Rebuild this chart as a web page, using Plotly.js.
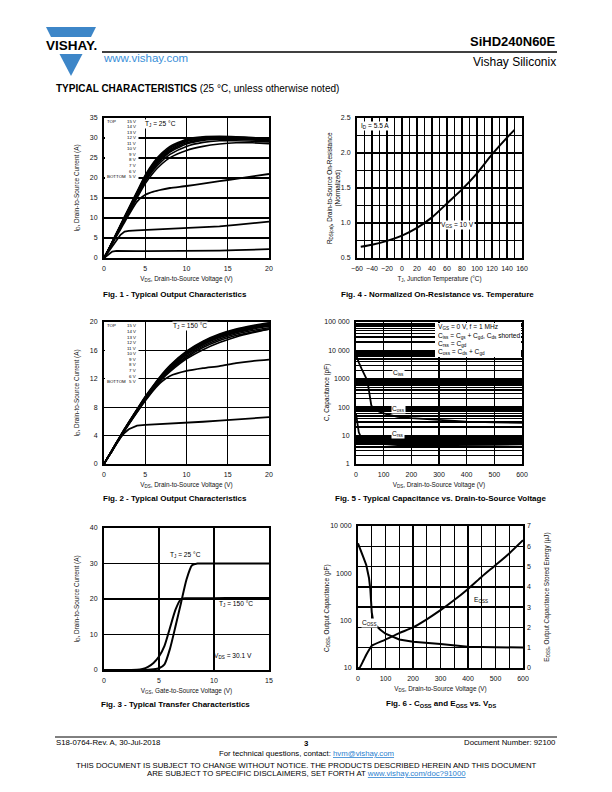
<!DOCTYPE html>
<html><head><meta charset="utf-8">
<script src="https://cdn.plot.ly/plotly-3.0.1.min.js"></script>
<style>html,body{margin:0;padding:0;background:#fff}#chart{width:612px;height:792px}</style>
</head><body><div id="chart"></div>
<script>
// ---------------- DATA ----------------
// Fig. 1 / Fig. 2 : output characteristics, VDS (V)
const vdsOut = [0, 0.5, 1, 1.5, 2, 2.5, 3, 4, 5, 6, 7, 8, 10, 12, 14, 16, 18, 20];
// Fig. 1, TJ = 25 °C, ID (A) per VGS
const f1_15V = [0, 2.0, 4.1, 6.2, 8.3, 10.4, 12.5, 16.6, 20.7, 23.9, 26.2, 27.9, 29.7, 30.3, 30.4, 30.3, 30.1, 29.8];
const f1_14V = [0, 2.0, 4.0, 6.1, 8.2, 10.3, 12.3, 16.4, 20.4, 23.6, 25.9, 27.6, 29.5, 30.1, 30.3, 30.2, 30.0, 29.7];
const f1_13V = [0, 2.0, 4.0, 6.0, 8.1, 10.1, 12.2, 16.2, 20.2, 23.3, 25.6, 27.4, 29.3, 30.0, 30.2, 30.1, 29.9, 29.6];
const f1_12V = [0, 1.9, 3.9, 5.9, 8.0, 10.0, 12.0, 16.0, 19.9, 23.0, 25.3, 27.1, 29.1, 29.8, 30.0, 30.0, 29.8, 29.5];
const f1_11V = [0, 1.9, 3.9, 5.9, 7.9, 9.9, 11.8, 15.8, 19.7, 22.7, 25.0, 26.8, 28.8, 29.6, 29.9, 29.9, 29.7, 29.4];
const f1_10V = [0, 1.9, 3.8, 5.8, 7.8, 9.7, 11.7, 15.6, 19.4, 22.4, 24.7, 26.5, 28.5, 29.4, 29.7, 29.7, 29.5, 29.2];
const f1_9V  = [0, 1.9, 3.8, 5.7, 7.7, 9.6, 11.5, 15.3, 19.1, 22.0, 24.2, 25.9, 27.9, 28.9, 29.3, 29.3, 29.2, 29.0];
const f1_8V  = [0, 1.8, 3.7, 5.6, 7.5, 9.4, 11.3, 15.0, 18.6, 21.4, 23.5, 25.1, 26.9, 27.9, 28.5, 28.8, 28.8, 28.6];
const f1_7V  = [0, 1.8, 3.6, 5.4, 7.2, 9.0, 10.8, 14.1, 15.8, 16.6, 17.1, 17.5, 18.0, 18.6, 19.2, 19.8, 20.4, 21.0];
const f1_6V  = [0, 1.5, 3.0, 4.5, 5.8, 6.6, 6.8, 6.9, 7.0, 7.1, 7.2, 7.25, 7.4, 7.6, 7.9, 8.3, 8.7, 9.1];
const f1_5V  = [0, 0.9, 1.6, 1.8, 1.75, 1.7, 1.7, 1.7, 1.7, 1.7, 1.7, 1.7, 1.7, 1.75, 1.85, 1.95, 2.1, 2.2];
// Fig. 2, TJ = 150 °C
const f2_15V = [0, 1.0, 2.0, 3.0, 4.0, 5.0, 5.9, 7.7, 9.5, 11.1, 12.6, 13.9, 15.9, 17.3, 18.3, 19.0, 19.5, 19.9];
const f2_14V = [0, 1.0, 2.0, 3.0, 4.0, 4.9, 5.9, 7.7, 9.4, 11.0, 12.5, 13.8, 15.8, 17.2, 18.2, 18.9, 19.4, 19.8];
const f2_13V = [0, 1.0, 2.0, 3.0, 3.9, 4.9, 5.8, 7.6, 9.4, 11.0, 12.4, 13.7, 15.7, 17.1, 18.1, 18.8, 19.3, 19.7];
const f2_12V = [0, 1.0, 2.0, 3.0, 3.9, 4.9, 5.8, 7.6, 9.3, 10.9, 12.4, 13.6, 15.6, 17.0, 18.0, 18.7, 19.2, 19.6];
const f2_11V = [0, 1.0, 2.0, 2.9, 3.9, 4.8, 5.8, 7.5, 9.3, 10.8, 12.3, 13.5, 15.5, 16.9, 17.9, 18.6, 19.1, 19.5];
const f2_10V = [0, 1.0, 1.9, 2.9, 3.9, 4.8, 5.7, 7.5, 9.2, 10.8, 12.2, 13.4, 15.4, 16.8, 17.8, 18.5, 19.0, 19.4];
const f2_9V  = [0, 1.0, 1.9, 2.9, 3.9, 4.8, 5.7, 7.5, 9.2, 10.7, 12.1, 13.3, 15.2, 16.6, 17.6, 18.3, 18.8, 19.2];
const f2_8V  = [0, 1.0, 1.9, 2.9, 3.8, 4.8, 5.7, 7.4, 9.1, 10.6, 12.0, 13.2, 15.0, 16.4, 17.4, 18.1, 18.6, 19.0];
const f2_7V  = [0, 1.0, 1.9, 2.9, 3.8, 4.7, 5.6, 7.3, 9.0, 10.5, 11.9, 13.0, 14.8, 16.1, 17.1, 17.9, 18.5, 19.0];
const f2_6V  = [0, 1.0, 1.9, 2.9, 3.8, 4.7, 5.6, 7.3, 8.9, 10.4, 11.6, 12.4, 13.1, 13.5, 13.8, 14.2, 14.5, 14.7];
const f2_5V  = [0, 1.0, 1.9, 2.8, 3.7, 4.4, 4.9, 5.4, 5.5, 5.55, 5.6, 5.65, 5.8, 5.95, 6.1, 6.3, 6.45, 6.6];
const vgsLegend = ['15 V','14 V','13 V','12 V','11 V','10 V','9 V','8 V','7 V','6 V','5 V'];

// Fig. 3 : transfer characteristics
const vgsTr  = [0, 1, 2, 3, 3.5, 4, 4.5, 5, 5.5, 6, 6.5, 7, 7.5, 8, 8.5, 9, 10, 12, 15];
const idTr25  = [0, 0, 0, 0, 0, 0.05, 0.2, 0.5, 1.6, 6.0, 12.3, 18.9, 25.5, 29.5, 30.0, 30.0, 30.0, 30.0, 30.0];
const idTr150 = [0, 0, 0, 0.05, 0.3, 0.9, 2.0, 3.8, 6.8, 11.9, 17.0, 20.0, 20.2, 20.2, 20.2, 20.2, 20.2, 20.3, 20.3];

// Fig. 4 : normalized on-resistance
const tjC  = [-55, -40, -20, 0, 20, 40, 60, 80, 100, 120, 140, 150];
const rNorm = [0.66, 0.69, 0.745, 0.82, 0.93, 1.08, 1.28, 1.48, 1.71, 1.98, 2.22, 2.33];

// Fig. 5 : capacitance vs VDS (pF)
const vdsCap = [0, 5, 10, 20, 30, 40, 45, 50, 55, 60, 75, 100, 150, 200, 300, 400, 500, 600];
const cissPF = [1000, 920, 880, 860, 845, 835, 830, 830, 830, 830, 825, 820, 815, 810, 805, 800, 800, 800];
const cossPF = [7000, 5000, 3800, 2300, 1400, 900, 500, 200, 120, 95, 75, 60, 46, 41, 35, 31, 29, 28];
const crssPF = [60, 27, 13, 8, 7, 6.5, 6.2, 6.0, 5.8, 5.6, 5.3, 5.0, 4.6, 4.5, 4.5, 4.6, 4.7, 4.9];

// Fig. 6 : Coss and Eoss vs VDS
const vdsCoss = [0, 10, 20, 30, 40, 45, 50, 55, 60, 80, 100, 150, 200, 300, 400, 500, 600];
const coss6PF = [4300, 2900, 2150, 1500, 800, 450, 150, 100, 85, 65, 53, 40, 36, 32, 28, 27.5, 27];
const vdsEoss = [0, 5, 20, 30, 45, 50, 100, 150, 200, 250, 300, 350, 400, 450, 500, 550, 600];
const eossUJ  = [0, 0, 0.38, 0.65, 1.0, 1.1, 1.4, 1.72, 2.0, 2.4, 2.85, 3.35, 3.9, 4.5, 5.07, 5.65, 6.3];

// tick labels
const capTickVals = [1, 10, 100, 1000, 10000, 100000];
const capTickText = ['1', '10', '100', '1000', '10 000', '100 000'];
const cossTickVals = [10, 100, 1000, 10000];
const cossTickText = ['10', '100', '1000', '10 000'];

// ---------------- HELPERS ----------------
const FONT = 'Liberation Sans, Arial, Helvetica, sans-serif';
const W = 612, H = 792;
const PX = x => x / W, PY = y => 1 - y / H;
function txt(text, x, y, size, opts) {
  return Object.assign({xref:'paper', yref:'paper', x:PX(x), y:PY(y), text:text, showarrow:false,
    font:{family:FONT, size:size, color:'black'}, xanchor:'center', yanchor:'middle', borderpad:0}, opts || {});
}
function ln(x, y, xa, ya, w, shape) {
  return {type:'scatter', mode:'lines', x:x, y:y, xaxis:xa, yaxis:ya, hoverinfo:'skip', showlegend:false,
    line:{color:'black', width:w, shape:shape || 'spline', smoothing:0.6}};
}
const tickFont = {family:FONT, size:7, color:'#111'};
const titleFont = {family:FONT, size:6.4, color:'#111'};
function ax(dom, extra) {
  return Object.assign({domain:dom, showline:true, linecolor:'black', linewidth:2, mirror:true, ticks:'',
    showgrid:true, gridcolor:'black', gridwidth:1.3, zeroline:false, tickfont:tickFont,
    ticklabelstandoff:3, fixedrange:true, automargin:false}, extra);
}
function minorGrid(vals, w) {
  return {tickmode:'array', tickvals:vals, showgrid:true, gridcolor:'black', gridwidth:w, ticks:''};
}

// ---------------- TRACES ----------------
const traces = [];
[f1_15V, f1_14V, f1_13V, f1_12V, f1_11V, f1_10V, f1_9V, f1_8V].forEach(a => traces.push(ln(vdsOut, a, 'x', 'y', 1.6)));
traces.push(ln(vdsOut, f1_7V, 'x', 'y', 1.8));
traces.push(ln(vdsOut, f1_6V, 'x', 'y', 1.8, 'linear'));
traces.push(ln(vdsOut, f1_5V, 'x', 'y', 1.8, 'linear'));

traces.push(ln(tjC, rNorm, 'x2', 'y2', 2));

[f2_15V, f2_14V, f2_13V, f2_12V, f2_11V, f2_10V, f2_9V, f2_8V, f2_7V].forEach(a => traces.push(ln(vdsOut, a, 'x3', 'y3', 1.6)));
traces.push(ln(vdsOut, f2_6V, 'x3', 'y3', 1.8));
traces.push(ln(vdsOut, f2_5V, 'x3', 'y3', 1.8, 'linear'));

traces.push(ln(vdsCap, cissPF, 'x4', 'y4', 1.8, 'linear'));
traces.push(ln(vdsCap, cossPF, 'x4', 'y4', 1.8, 'linear'));
traces.push(ln(vdsCap, crssPF, 'x4', 'y4', 1.8, 'linear'));

traces.push(ln(vgsTr, idTr25, 'x5', 'y5', 2));
traces.push(ln(vgsTr, idTr150, 'x5', 'y5', 2));

traces.push(ln(vdsCoss, coss6PF, 'x6', 'y6', 2, 'linear'));
traces.push(ln(vdsEoss, eossUJ, 'x6', 'y7', 2));

// ---------------- AXES ----------------
const t4xMinor = []; for (let v = -50; v <= 150; v += 20) t4xMinor.push(v);
const t4yMinor = []; for (let v = 0.75; v <= 2.3; v += 0.5) t4yMinor.push(v);
const t5yMinor = []; for (let d = 0; d < 5; d++) for (let m = 2; m <= 9; m++) t5yMinor.push(m * Math.pow(10, d));
const t6xMinor = []; for (let v = 50; v <= 550; v += 100) t6xMinor.push(v);

const vdsTitle = 'V<sub>DS</sub>, Drain-to-Source Voltage (V)';
const layout = {
  width:W, height:H, margin:{l:0, r:0, t:0, b:0}, paper_bgcolor:'white', plot_bgcolor:'white',
  showlegend:false, font:{family:FONT, color:'black'},
  xaxis: ax([PX(104), PX(269)], {anchor:'y', range:[0,20], dtick:5, tick0:0,
    title:{text:vdsTitle, font:titleFont, standoff:5}}),
  yaxis: ax([PY(258), PY(118)], {anchor:'x', range:[0,35], dtick:5, tick0:0,
    title:{text:'I<sub>D</sub>, Drain-to-Source Current (A)', font:titleFont, standoff:10}}),
  xaxis2: ax([PX(357), PX(522)], {anchor:'y2', range:[-60,160], dtick:20, tick0:-60,
    minor:minorGrid(t4xMinor, 1.3),
    title:{text:'T<sub>J</sub>, Junction Temperature (°C)', font:titleFont, standoff:5}}),
  yaxis2: ax([PY(258), PY(118)], {anchor:'x2', range:[0.5,2.5], dtick:0.5, tick0:0.5, tickformat:'.1f',
    minor:minorGrid(t4yMinor, 1.3)}),
  xaxis3: ax([PX(104), PX(269)], {anchor:'y3', range:[0,20], dtick:5, tick0:0,
    title:{text:vdsTitle, font:titleFont, standoff:5}}),
  yaxis3: ax([PY(464), PY(322)], {anchor:'x3', range:[0,20], dtick:4, tick0:0,
    title:{text:'I<sub>D</sub>, Drain-to-Source Current (A)', font:titleFont, standoff:10}}),
  xaxis4: ax([PX(356), PX(522)], {anchor:'y4', range:[0,600], dtick:100, tick0:0,
    title:{text:vdsTitle, font:titleFont, standoff:5}}),
  yaxis4: ax([PY(464), PY(322)], {anchor:'x4', type:'log', range:[0,5], tickmode:'array',
    tickvals:capTickVals, ticktext:capTickText, gridwidth:1.6, minor:minorGrid(t5yMinor, 1.5)}),
  xaxis5: ax([PX(104), PX(269)], {anchor:'y5', range:[0,15], dtick:5, tick0:0,
    title:{text:'V<sub>GS</sub>, Gate-to-Source Voltage (V)', font:titleFont, standoff:5}}),
  yaxis5: ax([PY(670), PY(528)], {anchor:'x5', range:[0,40], dtick:10, tick0:0,
    title:{text:'I<sub>D</sub>, Drain-to-Source Current (A)', font:titleFont, standoff:10}}),
  xaxis6: ax([PX(358), PX(523)], {anchor:'y6', range:[0,600], dtick:100, tick0:0,
    minor:minorGrid(t6xMinor, 1.3),
    title:{text:vdsTitle, font:titleFont, standoff:5}}),
  yaxis6: ax([PY(668), PY(526)], {anchor:'x6', type:'log', range:[1,4], tickmode:'array',
    tickvals:cossTickVals, ticktext:cossTickText, showgrid:false}),
  yaxis7: ax([PY(668), PY(526)], {anchor:'x6', overlaying:'y6', side:'right', range:[0,7], dtick:1, tick0:0, showline:false,
    title:{text:'E<sub>OSS</sub>, Output Capacitance Stored Energy (µJ)', font:titleFont, standoff:14}})
};

// ---------------- SHAPES ----------------
function poly(pts, color) {
  let d = pts.map((p, i) => (i ? 'L' : 'M') + PX(p[0]).toFixed(5) + ',' + PY(p[1]).toFixed(5)).join(' ') + ' Z';
  return {type:'path', xref:'paper', yref:'paper', path:d, fillcolor:color, line:{width:0}, layer:'above'};
}
function rect(x0, y0, x1, y1) {
  return {type:'rect', xref:'paper', yref:'paper', x0:PX(x0), x1:PX(x1), y0:PY(y1), y1:PY(y0), fillcolor:'white', line:{width:0}, layer:'above'};
}
function hline(x0, x1, y, w) {
  return {type:'line', xref:'paper', yref:'paper', x0:PX(x0), x1:PX(x1), y0:PY(y), y1:PY(y), line:{color:'black', width:w}};
}
const LOGO = '#3d86c8';
layout.shapes = [
  poly([[46,27],[96,27],[91,37],[51,37]], LOGO),
  poly([[59.5,54],[82.5,54],[71,76]], LOGO),
  hline(102, 557, 52, 1.3),
  hline(55, 557, 737, 1),
  rect(105, 119, 138.5, 181),   // Fig.1 legend box
  rect(105, 323, 138.5, 385),   // Fig.2 legend box
  rect(435, 323, 521, 357)      // Fig.5 legend box
];

// ---------------- TEXT ----------------
const A = [];
A.push(txt('<b>VISHAY.</b>', 71, 45.5, 13.5));
A.push(txt('www.vishay.com', 102, 58.5, 11.5, {xanchor:'left', font:{family:FONT, size:11.5, color:'#3a8fd8'}}));
A.push(txt('<b>SiHD240N60E</b>', 557, 42, 13, {xanchor:'right'}));
A.push(txt('Vishay Siliconix', 557, 62, 12, {xanchor:'right'}));
A.push(txt('<b>TYPICAL CHARACTERISTICS</b> (25 °C, unless otherwise noted)', 55, 88, 10, {xanchor:'left'}));

// Fig 1 annotations
A.push(txt('T<sub>J</sub> = 25 °C', 160, 123.5, 6.6, {bgcolor:'white'}));
A.push(txt('TOP', 106, 121, 4.4, {xanchor:'left'}));
A.push(txt('BOTTOM', 106, 176.7, 4.4, {xanchor:'left'}));
vgsLegend.forEach((s, i) => A.push(txt(s, 137, 121 + i * 5.57, 4.4, {xanchor:'right'})));
A.push(txt('<b>Fig. 1 - Typical Output Characteristics</b>', 175, 294, 8));

// Fig 4
A.push(txt('I<sub>D</sub> = 5.5 A', 360, 125.5, 6.6, {xanchor:'left', bgcolor:'white'}));
A.push(txt('V<sub>GS</sub> = 10 V', 457, 225, 6.6, {bgcolor:'white'}));
A.push(txt('R<sub>DS(on)</sub>, Drain-to-Source On-Resistance<br>(Normalized)', 334, 188, 6.4, {textangle:-90}));
A.push(txt('<b>Fig. 4 - Normalized On-Resistance vs. Temperature</b>', 437.5, 294, 8));

// Fig 2
A.push(txt('T<sub>J</sub> = 150 °C', 190, 326.5, 6.6, {bgcolor:'white'}));
A.push(txt('TOP', 106, 326, 4.4, {xanchor:'left'}));
A.push(txt('BOTTOM', 106, 381.7, 4.4, {xanchor:'left'}));
vgsLegend.forEach((s, i) => A.push(txt(s, 137, 326 + i * 5.57, 4.4, {xanchor:'right'})));
A.push(txt('<b>Fig. 2 - Typical Output Characteristics</b>', 175, 498, 8));

// Fig 5
A.push(txt('V<sub>GS</sub> = 0 V, f = 1 MHz', 437, 326.7, 6.6, {xanchor:'left'}));
A.push(txt('C<sub>iss</sub> = C<sub>gs</sub> + C<sub>gd</sub>, C<sub>ds</sub> shorted', 437, 336, 6.6, {xanchor:'left'}));
A.push(txt('C<sub>rss</sub> = C<sub>gd</sub>', 437, 343.5, 6.6, {xanchor:'left'}));
A.push(txt('C<sub>oss</sub> = C<sub>ds</sub> + C<sub>gd</sub>', 437, 352, 6.6, {xanchor:'left'}));
A.push(txt('C<sub>iss</sub>', 398, 373, 6.6, {bgcolor:'white'}));
A.push(txt('C<sub>oss</sub>', 398, 409, 6.6, {bgcolor:'white'}));
A.push(txt('C<sub>rss</sub>', 398, 434, 6.6, {bgcolor:'white'}));
A.push(txt('C, Capacitance (pF)', 327, 393, 6.4, {textangle:-90}));
A.push(txt('<b>Fig. 5 - Typical Capacitance vs. Drain-to-Source Voltage</b>', 440, 498, 8));

// Fig 3
A.push(txt('T<sub>J</sub> = 25 °C', 186, 555, 6.6));
A.push(txt('T<sub>J</sub> = 150 °C', 236, 604, 6.6));
A.push(txt('V<sub>DS</sub> = 30.1 V', 233, 656, 6.6));
A.push(txt('<b>Fig. 3 - Typical Transfer Characteristics</b>', 175, 704, 8));

// Fig 6
A.push(txt('E<sub>OSS</sub>', 481, 600, 6.6));
A.push(txt('C<sub>OSS</sub>', 369, 623, 6.6, {bgcolor:'white'}));
A.push(txt('C<sub>OSS</sub>, Output Capacitance (pF)', 327, 608, 6.4, {textangle:-90}));
A.push(txt('<b>Fig. 6 - C<sub>OSS</sub> and E<sub>OSS</sub> vs. V<sub>DS</sub></b>', 440.5, 704, 8));

// Footer
A.push(txt('S18-0764-Rev. A, 30-Jul-2018', 55, 742, 7.8, {xanchor:'left'}));
A.push(txt('<b>3</b>', 306, 743.5, 7.8));
A.push(txt('Document Number: 92100', 557, 742, 7.8, {xanchor:'right'}));
A.push(txt('For technical questions, contact: <span style="color:#2a7fd0;text-decoration:underline">hvm@vishay.com</span>', 306, 753, 7.8));
A.push(txt('THIS DOCUMENT IS SUBJECT TO CHANGE WITHOUT NOTICE. THE PRODUCTS DESCRIBED HEREIN AND THIS DOCUMENT', 306, 765, 7.8));
A.push(txt('ARE SUBJECT TO SPECIFIC DISCLAIMERS, SET FORTH AT <span style="color:#2a7fd0;text-decoration:underline">www.vishay.com/doc?91000</span>', 306, 773.5, 7.8));
layout.annotations = A;

Plotly.newPlot('chart', traces, layout, {staticPlot:true, displayModeBar:false});
</script></body></html>
